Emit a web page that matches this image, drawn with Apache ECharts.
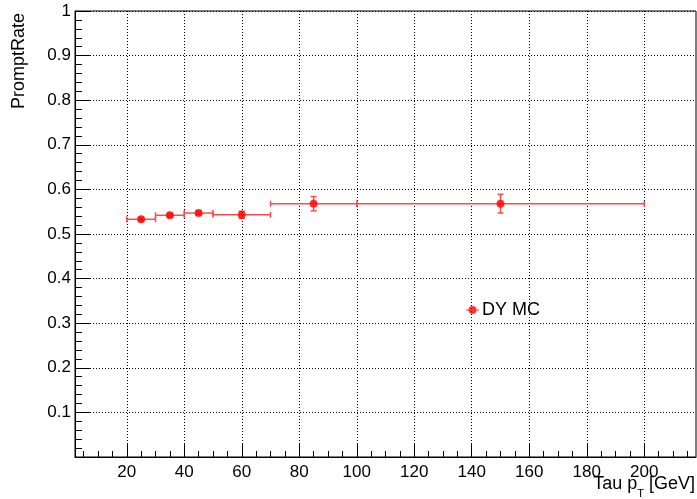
<!DOCTYPE html>
<html>
<head>
<meta charset="utf-8">
<script src="https://cdn.jsdelivr.net/npm/echarts@6/dist/echarts.min.js"></script>
<style>html,body{margin:0;padding:0;background:#fff}#c{width:697px;height:499px}</style>
</head>
<body>
<div id="c"></div>
<script>
// ---- data ----
const binLo = [20, 30, 40, 50, 70, 100];
const binHi = [30, 40, 50, 70, 100, 200];
const xCenter = [25, 35, 45, 60, 85, 150];
const rate = [0.533, 0.542, 0.547, 0.543, 0.568, 0.568];
const rateErr = [0.004, 0.004, 0.004, 0.008, 0.016, 0.021];
const xMajorTicks = [20, 40, 60, 80, 100, 120, 140, 160, 180, 200];
const xMinorTicks = [5, 10, 15, 25, 30, 35, 45, 50, 55, 65, 70, 75, 85, 90, 95, 105, 110, 115, 125, 130, 135, 145, 150, 155, 165, 170, 175, 185, 190, 195, 205, 210, 215];
const seriesName = 'DY MC';

const FONT = 'Liberation Sans, Arial, Helvetica, sans-serif';
const errColor = '#ff4a4a';

const errData = xCenter.map((x, i) => [x, rate[i], binLo[i], binHi[i], rateErr[i]]);
const ptData = xCenter.map((x, i) => [x, rate[i]]);

const chart = echarts.init(document.getElementById('c'), null, {renderer: 'canvas'});
chart.setOption({
  animation: false,
  backgroundColor: '#fff',
  grid: {left: 75, right: 1, top: 11, bottom: 42, show: true, borderColor: '#000', borderWidth: 1, backgroundColor: 'transparent'},
  xAxis: [{
    type: 'value', min: 2, max: 218,
    axisLine: {show: true, lineStyle: {color: '#000', width: 1}},
    axisTick: {show: true, inside: true, length: 14, customValues: xMajorTicks, lineStyle: {color: '#000'}},
    axisLabel: {customValues: xMajorTicks, color: '#000', fontSize: 17, fontFamily: FONT, margin: 7},
    splitLine: {show: true, lineStyle: {color: '#000', width: 1, type: [1, 2]}}
  }, {
    type: 'value', min: 2, max: 218, position: 'bottom',
    axisLine: {show: false},
    axisTick: {show: true, inside: true, length: 6, customValues: xMinorTicks, lineStyle: {color: '#000'}},
    axisLabel: {show: false},
    splitLine: {show: false}
  }],
  yAxis: {
    type: 'value', min: 0, max: 1, interval: 0.1,
    axisLine: {show: true, lineStyle: {color: '#000', width: 1}},
    axisTick: {show: true, inside: true, length: 15, lineStyle: {color: '#000'}},
    minorTick: {show: true, splitNumber: 5, length: 7, lineStyle: {color: '#000'}},
    axisLabel: {color: '#000', fontSize: 17, fontFamily: FONT, margin: 4,
      formatter: v => v === 0 ? '' : String(Math.round(v * 10) / 10)},
    splitLine: {show: true, lineStyle: {color: '#000', width: 1, type: [1, 2]}}
  },
  legend: {
    show: true, left: 466, top: 301, padding: 0, itemGap: 0,
    itemWidth: 13, itemHeight: 8,
    icon: 'path://M0,3.5h13v1h-13z M10.5,4a4,4 0 1,1 -8,0a4,4 0 1,1 8,0z',
    textStyle: {fontSize: 18, fontFamily: FONT, color: '#000', padding: [0, 0, 0, -2]},
    data: [{name: seriesName, itemStyle: {color: '#ff0000'}}]
  },
  graphic: [{
    type: 'text', left: 10, top: 13, rotation: Math.PI / 2,
    style: {text: 'PromptRate', font: '18px ' + FONT, fill: '#000'}
  }, {
    type: 'text', right: 2, top: 475,
    style: {
      text: '{a|Tau p}{s|T}{a| [GeV]}',
      rich: {
        a: {fontSize: 18, fontFamily: FONT, fontWeight: 'normal', fill: '#000', lineHeight: 18, verticalAlign: 'top'},
        s: {fontSize: 11, fontFamily: FONT, fontWeight: 'normal', fill: '#000', lineHeight: 24, verticalAlign: 'bottom'}
      }
    }
  }],
  series: [{
    type: 'custom', name: 'err', xAxisIndex: 0, yAxisIndex: 0, silent: true,
    data: errData,
    encode: {x: 0, y: 1},
    renderItem: function (params, api) {
      const y = api.value(1), lo = api.value(2), hi = api.value(3), e = api.value(4);
      const pL = api.coord([lo, y]);
      const pR = api.coord([hi, y]);
      const pT = api.coord([api.value(0), y + e]);
      const pB = api.coord([api.value(0), y - e]);
      const st = {stroke: errColor, lineWidth: 1.5};
      const cap = 3;
      return {type: 'group', children: [
        {type: 'line', shape: {x1: pL[0], y1: pL[1], x2: pR[0], y2: pR[1]}, style: st},
        {type: 'line', shape: {x1: pL[0], y1: pL[1] - cap, x2: pL[0], y2: pL[1] + cap}, style: st},
        {type: 'line', shape: {x1: pR[0], y1: pR[1] - cap, x2: pR[0], y2: pR[1] + cap}, style: st},
        {type: 'line', shape: {x1: pT[0], y1: pT[1], x2: pB[0], y2: pB[1]}, style: st},
        {type: 'line', shape: {x1: pT[0] - cap, y1: pT[1], x2: pT[0] + cap, y2: pT[1]}, style: st},
        {type: 'line', shape: {x1: pB[0] - cap, y1: pB[1], x2: pB[0] + cap, y2: pB[1]}, style: st}
      ]};
    },
    z: 2
  }, {
    type: 'scatter', name: seriesName, xAxisIndex: 0, yAxisIndex: 0,
    data: ptData, symbol: 'circle', symbolSize: 8,
    itemStyle: {color: '#ff0000'}, z: 3
  }]
});
</script>
</body>
</html>
